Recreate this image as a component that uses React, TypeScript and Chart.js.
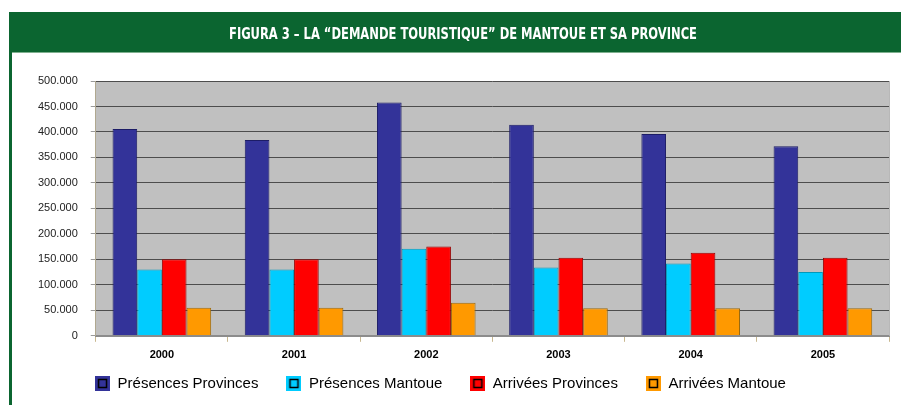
import React, { useEffect, useRef } from "react";
import { Chart, registerables } from "chart.js";

Chart.register(...registerables);

const title = "FIGURA 3 – LA “DEMANDE TOURISTIQUE” DE MANTOUE ET SA PROVINCE";
const years = ["2000", "2001", "2002", "2003", "2004", "2005"];
const seriesNames = ["Présences Provinces", "Présences Mantoue", "Arrivées Provinces", "Arrivées Mantoue"];
const presencesProvinces = [406000, 384000, 458000, 414000, 396000, 372000];
const presencesMantoue = [130000, 130000, 171000, 134000, 142000, 125000];
const arriveesProvinces = [150000, 150000, 175000, 153000, 163000, 153000];
const arriveesMantoue = [55000, 55000, 65000, 54000, 54000, 54000];
const fillColors = ["#333399", "#00CCFF", "#FF0000", "#FF9900"];
const borderColors = ["#1c1c66", "#0099bb", "#990000", "#9a6a10"];

function legendBox(color: string): HTMLCanvasElement {
  const c = document.createElement("canvas");
  c.width = 15;
  c.height = 15;
  const g = c.getContext("2d")!;
  g.fillStyle = color;
  g.fillRect(0, 0, 15, 15);
  g.strokeStyle = "#000";
  g.lineWidth = 1.5;
  g.strokeRect(3.5, 3.5, 8, 8);
  return c;
}

function fmt(v: number): string {
  return String(Math.round(v)).replace(/\B(?=(\d{3})+(?!\d))/g, ".");
}

const decor = {
  id: "decor",
  afterLayout(chart: any) {
    const lg = chart.legend;
    if (lg) {
      lg.left -= 16.5;
      lg.right -= 16.5;
      const dy = 348 - lg.top;
      lg.top += dy;
      lg.bottom += dy;
    }
  },
  beforeDraw(chart: any) {
    const { ctx, chartArea } = chart;
    ctx.save();
    ctx.fillStyle = "#ffffff";
    ctx.fillRect(0, 0, chart.width, chart.height);
    ctx.fillStyle = "#0b6530";
    ctx.fillRect(9, 12, chart.width - 9, 40);
    ctx.fillRect(9, 52, 3, chart.height - 52);
    ctx.fillStyle = "#7fb08f";
    ctx.fillRect(12, 52, chart.width - 12, 1);
    ctx.fillStyle = "#c0c0c0";
    ctx.fillRect(chartArea.left, chartArea.top, chartArea.right - chartArea.left, chartArea.bottom - chartArea.top);
    ctx.font = "bold 15px 'DejaVu Sans Condensed', 'DejaVu Sans', sans-serif";
    const w = ctx.measureText(title).width;
    const sx = 468 / w;
    ctx.translate(463, 35);
    ctx.scale(sx, 1);
    ctx.fillStyle = "#ffffff";
    ctx.textAlign = "center";
    ctx.textBaseline = "middle";
    ctx.fillText(title, 0, 0);
    ctx.restore();
  },
  afterDraw(chart: any) {
    const { ctx, chartArea } = chart;
    ctx.save();
    ctx.strokeStyle = "#b8b8b8";
    ctx.lineWidth = 1;
    ctx.beginPath();
    ctx.moveTo(chartArea.right + 0.5, chartArea.top);
    ctx.lineTo(chartArea.right + 0.5, chartArea.bottom);
    ctx.stroke();
    ctx.restore();
  },
};

export default function App() {
  const ref = useRef<HTMLCanvasElement>(null);
  useEffect(() => {
    document.body.style.margin = "0";
    const series = [presencesProvinces, presencesMantoue, arriveesProvinces, arriveesMantoue];
    const chart = new Chart(ref.current!, {
      type: "bar",
      data: {
        labels: years,
        datasets: series.map((d, i) => ({
          label: seriesNames[i],
          data: d,
          backgroundColor: fillColors[i],
          borderColor: borderColors[i],
          borderWidth: 1,
          barPercentage: 1,
          categoryPercentage: 0.746,
        })),
      },
      options: {
        responsive: false,
        animation: false,
        layout: { padding: { left: 25, right: 12, top: 81, bottom: -17 } },
        plugins: {
          tooltip: { enabled: false },
          title: { display: false },
          legend: {
            position: "bottom",
            labels: {
              usePointStyle: true,
              boxWidth: 15,
              boxHeight: 15,
              padding: 28,
              color: "#444444",
              font: { family: "'Liberation Sans', Arial, sans-serif", size: 15 },
              generateLabels: (ch: any) =>
                ch.data.datasets.map((ds: any, i: number) => ({
                  text: ds.label,
                  fillStyle: fillColors[i],
                  strokeStyle: "#000",
                  pointStyle: legendBox(fillColors[i]),
                  hidden: false,
                  datasetIndex: i,
                  lineWidth: 0,
                })),
            },
          },
        },
        scales: {
          x: {
            grid: {
              display: true,
              drawOnChartArea: false,
              drawTicks: true,
              tickLength: 6,
              tickColor: "#c8b890",
              offset: true,
            },
            border: { display: true, color: "#8c8c8c", width: 2 },
            ticks: {
              color: "#000",
              padding: 7,
              font: { family: "'Liberation Sans', Arial, sans-serif", size: 11, weight: "bold" },
            },
          },
          y: {
            min: 0,
            max: 500000,
            grid: {
              color: "#4d4d4d",
              lineWidth: 1,
              tickLength: 5,
              tickColor: "#9a9a9a",
            },
            border: { display: true, color: "#b0a890", width: 1 },
            ticks: {
              stepSize: 50000,
              color: "#222",
              padding: 13,
              font: { family: "'Liberation Sans', Arial, sans-serif", size: 11 },
              callback: (v: any) => fmt(Number(v)),
            },
          },
        },
      },
      plugins: [decor],
    });
    return () => chart.destroy();
  }, []);
  return (
    <div style={{ width: 901, height: 405 }}>
      <canvas ref={ref} width={901} height={405} />
    </div>
  );
}
